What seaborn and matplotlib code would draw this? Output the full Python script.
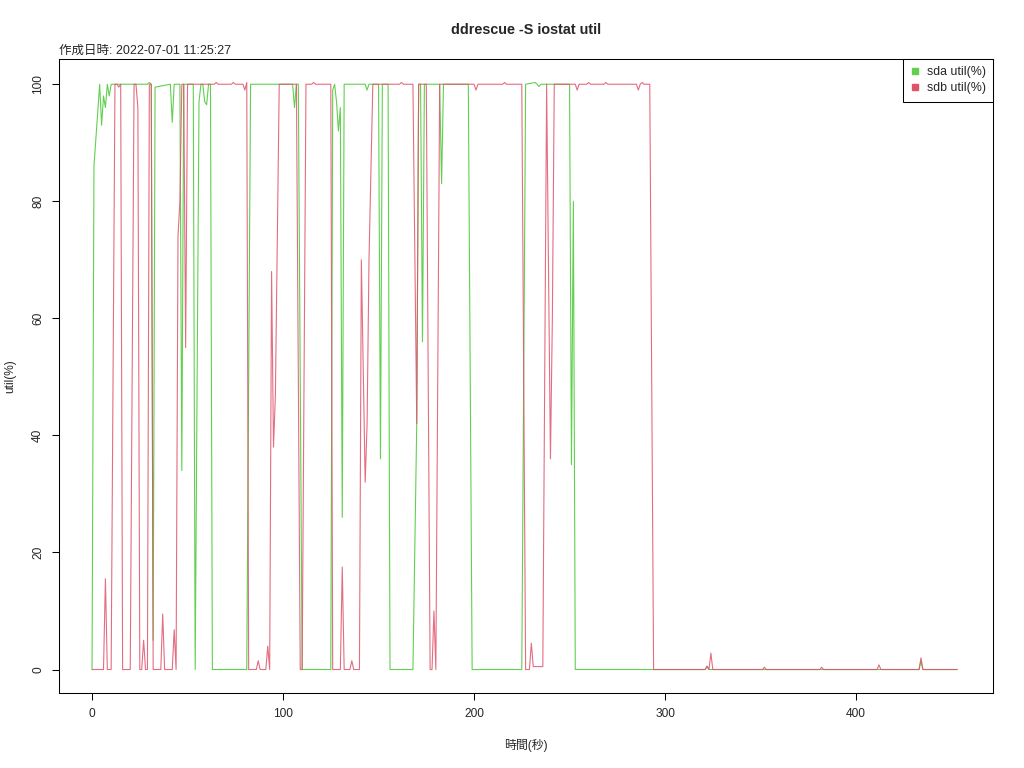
import matplotlib
matplotlib.use("Agg")
import matplotlib.pyplot as plt
from matplotlib.lines import Line2D
import seaborn as sns

# values (seconds, util %)
sda_t = [0, 1, 4, 5, 6, 7, 8, 9, 10, 29, 30, 31, 32, 33, 41, 42, 43, 46, 47, 48,
         53, 54, 56, 57, 58, 59, 60, 61, 62, 63, 81, 83, 105, 106, 107, 108, 110,
         125, 126, 127, 128, 129, 130, 131, 132, 143, 144, 145, 150, 151, 152,
         155, 156, 168, 170, 171, 172, 173, 174, 182, 183, 184, 197, 199, 225,
         227, 232, 233, 234, 235, 250, 251, 252, 253, 321, 322, 323, 433, 434,
         435, 453]
sda_util = [0, 86, 100, 93, 98, 96, 100, 98, 100, 100, 100.3, 100, 5, 99.5, 100,
            93.5, 100, 100, 34, 100, 100, 0, 97, 100, 100, 97, 96.5, 100, 100, 0,
            0, 100, 100, 96, 100, 100, 0, 0, 99, 100, 97, 92, 96, 26, 100, 100,
            99, 100, 100, 36, 100, 100, 0, 0, 42, 100, 100, 56, 100, 100, 83,
            100, 100, 0, 0, 100, 100.3, 100, 99.6, 100, 100, 35, 80, 0, 0, 0.5,
            0, 0, 1.5, 0, 0]

sdb_t = [0, 6, 7, 8, 10, 12, 13, 14, 15, 16, 20, 22, 23, 24, 25, 26, 27, 28, 29,
         30, 31, 32, 36, 37, 38, 42, 43, 44, 45, 46, 47, 48, 49, 50, 64, 65, 66,
         73, 74, 75, 79, 80, 81, 82, 86, 87, 88, 91, 92, 93, 94, 95, 96, 98,
         107, 109, 110, 112, 115, 116, 117, 125, 126, 130, 131, 132, 135, 136,
         137, 140, 141, 143, 144, 145, 147, 161, 162, 163, 168, 170, 171, 175,
         177, 178, 179, 180, 182, 200, 201, 202, 215, 216, 217, 225, 227, 229,
         230, 231, 236, 238, 240, 241, 242, 253, 254, 255, 259, 260, 261, 268,
         269, 270, 285, 286, 287, 288, 289, 292, 294, 321, 322, 323, 324, 325,
         351, 352, 353, 381, 382, 383, 411, 412, 413, 433, 434, 435, 453]
sdb_util = [0, 0, 15.5, 0, 0, 100, 100, 99.5, 100, 0, 0, 100, 100, 96, 0, 0, 5,
            0, 0, 100, 100, 0, 0, 9.5, 0, 0, 6.8, 0, 74, 80, 100, 100, 55, 100,
            100, 100.3, 100, 100, 100.3, 100, 100, 99, 100.3, 0, 0, 1.5, 0, 0, 4,
            0, 68, 38, 47, 100, 100, 0, 0, 100, 100, 100.3, 100, 100, 0, 0, 17.5,
            0, 0, 1.5, 0, 0, 70, 32, 42, 70, 100, 100, 100.3, 100, 100, 42, 100,
            100, 0, 0, 10, 0, 100, 100, 99, 100, 100, 100.3, 100, 100, 0, 0, 4.5,
            0.5, 0.5, 100, 36, 60, 100, 100, 99, 100, 100, 100.3, 100, 100, 100.3,
            100, 100, 99, 100, 100.3, 100, 100, 0, 0, 0.6, 0, 2.8, 0, 0, 0.4, 0,
            0, 0.4, 0, 0, 0.8, 0, 0, 2.0, 0, 0]

series_labels = ["sda util(%)", "sdb util(%)"]
series_colors = ["#61D04F", "#DF536B"]

sns.set_style("white")
plt.rcParams['font.family'] = ['Liberation Sans', 'Noto Sans CJK JP', 'DejaVu Sans']
fs = 8.6

fig = plt.figure(figsize=(10.24, 7.68), dpi=100)
ax = fig.add_axes([59/1024, 1 - 693/768, 934/1024, 634/768])

sns.lineplot(x=sda_t, y=sda_util, ax=ax, color=series_colors[0], lw=0.8, estimator=None)
sns.lineplot(x=sdb_t, y=sdb_util, ax=ax, color=series_colors[1], lw=0.8, alpha=0.85,
             estimator=None)

ax.set_xlim(-17.3, 471.7)
ax.set_ylim(-4.012, 104.312)
ax.set_xticks([0, 100, 200, 300, 400])
ax.set_yticks([0, 20, 40, 60, 80, 100])

for s in ax.spines.values():
    s.set_visible(True)
    s.set_linewidth(0.75)
    s.set_color('black')

ax.tick_params(axis='both', direction='out', length=5, width=0.75, color='black',
               labelsize=fs, left=True, bottom=True)
ax.tick_params(axis='x', pad=5.5)
ax.tick_params(axis='y', pad=5.8, labelrotation=90)
for lab in ax.get_yticklabels():
    lab.set_va('center')

ax.set_xlabel("時間(秒)", fontsize=fs, labelpad=14)
ax.set_ylabel("util(%)", fontsize=fs, labelpad=11)

fig.text(526/1024, 1 - 30/768, "ddrescue -S iostat util", ha='center', va='center',
         fontsize=10.4, fontweight='bold')
fig.text(59/1024, 1 - 51/768, "作成日時: 2022-07-01 11:25:27", ha='left', va='center',
         fontsize=9.0)

handles = [Line2D([], [], ls='none', marker='s', ms=4.5, color=c) for c in series_colors]
leg = ax.legend(handles, series_labels, loc='upper right', borderaxespad=0,
                fontsize=8.9, frameon=True, fancybox=False, framealpha=1,
                edgecolor='black', handletextpad=0.5, handlelength=0.8,
                borderpad=0.6, labelspacing=0.3)
leg.get_frame().set_linewidth(0.75)

fig.savefig("out.png", dpi=100)
